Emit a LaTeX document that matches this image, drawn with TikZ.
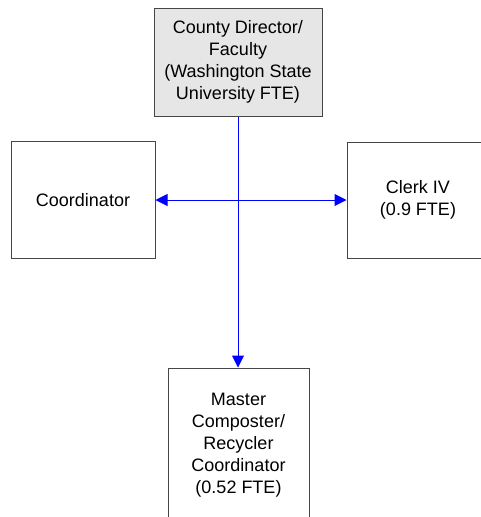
\documentclass[tikz,border=0pt]{standalone}
\usepackage{fontspec}
\setmainfont{Liberation Sans}
\definecolor{boxgray}{RGB}{230,230,230}
\definecolor{edgegray}{RGB}{70,70,70}
\definecolor{linkblue}{RGB}{0,0,255}
\usetikzlibrary{arrows.meta,positioning}
\tikzset{
  orgbox/.style={draw=edgegray, line width=1pt, align=center, inner sep=0pt,
    font=\fontsize{18}{22}\selectfont},
  orglink/.style={draw=linkblue, line width=1pt, -{Triangle[length=12pt,width=12pt]}}
}
\begin{document}
\begin{tikzpicture}[x=1pt, y=-1pt]
  \useasboundingbox (0,0) rectangle (481,517);
  \clip (0,0) rectangle (481,517);

  %% --- BOXES ---
  \node[orgbox, fill=boxgray, minimum width=168pt, minimum height=108pt] (director) at (238,62)
    {County Director/\\Faculty\\(Washington State\\University FTE)};
  \node[orgbox, minimum width=144pt, minimum height=117pt] (coord)  at (83,200)  {Coordinator};
  \node[orgbox, minimum width=142pt, minimum height=116pt] (clerk)  at (418,200) {Clerk IV\\(0.9 FTE)};
  \node[orgbox, minimum width=141pt, minimum height=154pt] (master) at (238.5,445)
    {Master\\Composter/\\Recycler\\Coordinator\\(0.52 FTE)};

  %% --- LINKS ---
  \draw[orglink] (director.south) -- (director.south |- master.north);
  \draw[orglink, {Triangle[length=12pt,width=12pt]}-{Triangle[length=12pt,width=12pt]}] (coord.east) -- (clerk.west);
\end{tikzpicture}
\end{document}
